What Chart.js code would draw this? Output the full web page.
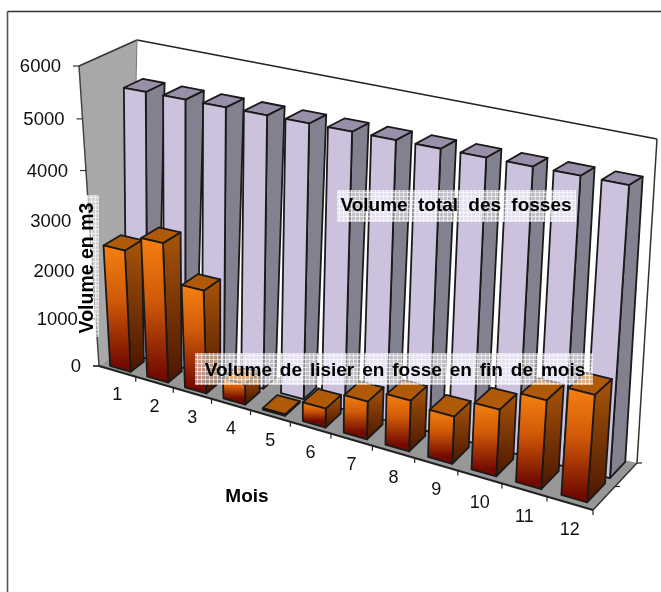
<!DOCTYPE html>
<html>
<head>
<meta charset="utf-8">
<title>Volume des fosses</title>
<script src="https://cdn.jsdelivr.net/npm/chart.js@4/dist/chart.umd.min.js"></script>
<style>
  html, body { margin: 0; padding: 0; background: #fff; overflow: hidden; }
  canvas { display: block; }
</style>
</head>
<body>
<canvas id="myChart" width="661" height="592"></canvas>
<script>
const mois = ['1', '2', '3', '4', '5', '6', '7', '8', '9', '10', '11', '12'];
const volumeTotal = [5320, 5320, 5320, 5320, 5320, 5320, 5320, 5320, 5320, 5320, 5320, 5320];
const volumeLisier = [2500, 2830, 2080, 410, 30, 375, 740, 980, 900, 1250, 1640, 1950];
const labelTotal = 'Volume total des fosses';
const labelLisier = 'Volume de lisier en fosse en fin de mois';
const titreY = 'Volume en m3';
const titreX = 'Mois';

// corners of the 3D box on screen
const box = {
  flb: [99, 366], flt: [79, 66], frb: [593, 510], frt: [619, 160],
  blb: [130, 342], blt: [137, 40], brb: [637, 463], brt: [657, 139],
};

// foreshortening along the width and the height of the box
const warp = (t, a) => t / (1 + a * (1 - t));
const lerp = (p, q, t) => [p[0] + (q[0] - p[0]) * t, p[1] + (q[1] - p[1]) * t];

function project(u, v, z) {
  const su = warp(u, 0.13);
  const sv = warp(v, 0.07);
  const bottom = lerp(lerp(box.flb, box.frb, su), lerp(box.blb, box.brb, su), z);
  const top = lerp(lerp(box.flt, box.frt, su), lerp(box.blt, box.brt, su), z);
  return lerp(bottom, top, sv);
}

function face(ctx, pts, fill, stroke, lineWidth) {
  ctx.beginPath();
  pts.forEach((p, i) => (i ? ctx.lineTo(p[0], p[1]) : ctx.moveTo(p[0], p[1])));
  ctx.closePath();
  if (fill) {
    ctx.fillStyle = fill;
    ctx.fill();
  }
  if (stroke) {
    ctx.strokeStyle = stroke;
    ctx.lineWidth = lineWidth || 1.8;
    ctx.stroke();
  }
}

function line(ctx, a, b, color, width) {
  ctx.beginPath();
  ctx.moveTo(a[0], a[1]);
  ctx.lineTo(b[0], b[1]);
  ctx.strokeStyle = color;
  ctx.lineWidth = width;
  ctx.stroke();
}

function drawRoom(ctx, chart) {
  // back wall, side wall, floor
  face(ctx, [box.blb, box.brb, box.brt, box.blt], '#ffffff');
  face(ctx, [box.flb, box.blb, box.blt, box.flt], '#a8a8a8');
  face(ctx, [box.flb, box.frb, box.brb, box.blb], '#979797');
  line(ctx, box.flt, box.blt, '#333', 1.5);
  line(ctx, box.blt, box.brt, '#222', 1.5);
  line(ctx, box.brt, box.brb, '#333', 1.5);
  line(ctx, box.flt, box.flb, '#444', 1.5);
  line(ctx, box.blt, box.blb, '#777', 1);
  line(ctx, box.frb, box.brb, '#333', 1.5);
  line(ctx, box.flb, box.frb, '#222', 2);

  // y ticks
  const yScale = chart.scales.y;
  const area = chart.chartArea;
  ctx.font = '18.5px "Liberation Sans"';
  ctx.textAlign = 'right';
  ctx.textBaseline = 'middle';
  yScale.ticks.forEach((t) => {
    const v = (area.bottom - yScale.getPixelForValue(t.value)) / area.height;
    const p = project(0, v, 0);
    line(ctx, p, [p[0] - 6, p[1]], '#333', 1.2);
    ctx.fillStyle = '#111';
    ctx.fillText(String(t.value), p[0] - 18, p[1] + 1);
  });

  // x ticks
  const xScale = chart.scales.x;
  const step = area.width / mois.length;
  ctx.font = '18px "Liberation Sans"';
  ctx.textAlign = 'center';
  mois.forEach((m, i) => {
    const c = (xScale.getPixelForValue(i) - area.left) / area.width;
    const edge = project(c + step / area.width / 2, 0, 0);
    line(ctx, edge, [edge[0], edge[1] + 5], '#222', 1.2);
    const p = project(c, 0, 0);
    ctx.fillStyle = '#111';
    ctx.fillText(m, p[0], p[1] + 24 + c * 3);
  });
  line(ctx, box.flb, [box.flb[0] - 6, box.flb[1]], '#222', 1.2);
  const mid = lerp(box.frb, box.brb, 0.5);
  line(ctx, mid, [mid[0] + 5, mid[1]], '#222', 1.2);
  line(ctx, box.brb, [box.brb[0] + 5, box.brb[1]], '#222', 1.2);
}

function drawBars(ctx, chart, index, z0, z1, colors) {
  const area = chart.chartArea;
  chart.getDatasetMeta(index).data.forEach((bar) => {
    const u0 = (bar.x - bar.width / 2 - area.left) / area.width;
    const u1 = (bar.x + bar.width / 2 - area.left) / area.width;
    const v = (bar.base - bar.y) / area.height;

    const a = project(u0, 0, z0);
    const b = project(u1, 0, z0);
    const c = project(u1, v, z0);
    const d = project(u0, v, z0);
    const e = project(u1, 0, z1);
    const f = project(u1, v, z1);
    const g = project(u0, v, z1);

    let front = colors.front[0];
    let side = colors.side[0];
    if (colors.front[1]) {
      front = ctx.createLinearGradient(0, d[1], 0, a[1]);
      front.addColorStop(0, colors.front[0]);
      front.addColorStop(0.45, colors.front[1]);
      front.addColorStop(1, colors.front[2]);
      side = ctx.createLinearGradient(0, f[1], 0, b[1]);
      side.addColorStop(0, colors.side[0]);
      side.addColorStop(1, colors.side[1]);
    }
    face(ctx, [b, e, f, c], side, '#1a1a1a');
    face(ctx, [d, c, f, g], colors.top, '#1a1a1a');
    face(ctx, [a, b, c, d], front, '#1a1a1a');
  });
}

// translucent white label plate with its fine white grid
function plate(ctx, x, y, w, h) {
  ctx.fillStyle = 'rgba(255,255,255,0.5)';
  ctx.fillRect(x, y, w, h);
  ctx.strokeStyle = 'rgba(255,255,255,0.6)';
  ctx.lineWidth = 1;
  ctx.beginPath();
  for (let px = x + 2.5; px < x + w; px += 4) {
    ctx.moveTo(px, y);
    ctx.lineTo(px, y + h);
  }
  for (let py = y + 2.5; py < y + h; py += 4) {
    ctx.moveTo(x, py);
    ctx.lineTo(x + w, py);
  }
  ctx.stroke();
}

function drawTexts(ctx) {
  ctx.fillStyle = '#000';
  ctx.textBaseline = 'middle';
  ctx.textAlign = 'center';
  ctx.font = 'bold 19px "Liberation Sans"';

  plate(ctx, 337, 190, 239, 32);
  ctx.fillStyle = '#000';
  ctx.wordSpacing = '5px';
  ctx.fillText(labelTotal, 456, 206);

  plate(ctx, 195, 353, 398, 32);
  ctx.fillStyle = '#000';
  ctx.wordSpacing = '2.6px';
  ctx.fillText(labelLisier, 395, 371);
  ctx.wordSpacing = '0px';

  plate(ctx, 77, 195, 22, 142);
  ctx.fillStyle = '#000';
  ctx.save();
  ctx.translate(88, 268);
  ctx.rotate(-Math.PI / 2);
  ctx.font = 'bold 19.5px "Liberation Sans"';
  ctx.fillText(titreY, 0, 0);
  ctx.restore();

  ctx.fillText(titreX, 247, 497);
}

const fosses3d = {
  id: 'fosses3d',
  beforeDatasetsDraw(chart) {
    const ctx = chart.ctx;
    ctx.save();
    ctx.lineJoin = 'round';

    // chart frame, running off the right and bottom of the page
    line(ctx, [7.5, 592], [7.5, 11.5], '#555', 1.6);
    line(ctx, [7.5, 11.5], [661, 11.5], '#333', 1.6);

    drawRoom(ctx, chart);
    drawBars(ctx, chart, 0, 0.62, 0.97, {
      front: ['#cdc2de'], side: ['#83808f'], top: '#9a8fa8',
    });
    drawBars(ctx, chart, 1, 0.1, 0.51, {
      front: ['#f5800f', '#d05a08', '#720a00'],
      side: ['#a85409', '#4a1600'],
      top: '#b05a08',
    });
    drawTexts(ctx);
    ctx.restore();
    return false; // the boxes above replace the flat bars
  },
};

new Chart(document.getElementById('myChart'), {
  type: 'bar',
  data: {
    labels: mois,
    datasets: [
      { label: labelTotal, data: volumeTotal, grouped: false, barPercentage: 0.56, categoryPercentage: 1 },
      { label: labelLisier, data: volumeLisier, grouped: false, barPercentage: 0.56, categoryPercentage: 1 },
    ],
  },
  options: {
    responsive: false,
    animation: false,
    plugins: { legend: { display: false }, tooltip: { enabled: false } },
    scales: {
      x: { display: false },
      y: { display: false, min: 0, max: 6000, ticks: { stepSize: 1000 } },
    },
  },
  plugins: [fosses3d],
});
</script>
</body>
</html>
